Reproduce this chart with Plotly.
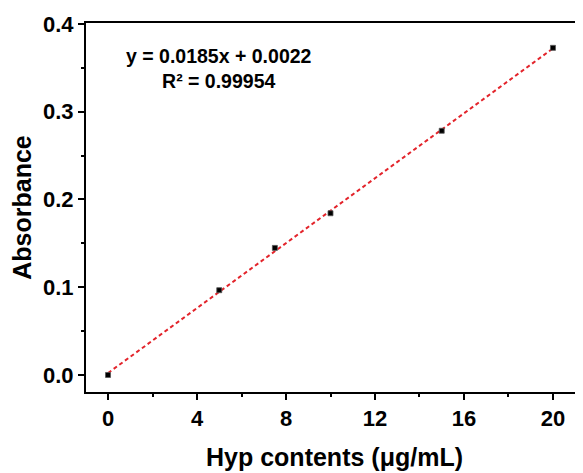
import plotly.graph_objects as go

# Data
hyp_conc = [0, 5, 7.5, 10, 15, 20]
absorbance = [0.000, 0.0966, 0.1448, 0.1843, 0.2783, 0.3728]
fit_slope = 0.0185
fit_intercept = 0.0022
r_squared = 0.99954
x_ticks = [0, 4, 8, 12, 16, 20]
y_ticks = [0.0, 0.1, 0.2, 0.3, 0.4]

fit_x = [min(hyp_conc), max(hyp_conc)]
fit_y = [fit_slope * v + fit_intercept for v in fit_x]

FONT = "Liberation Sans, Arial, sans-serif"

fig = go.Figure()
fig.add_trace(go.Scatter(
    x=fit_x, y=fit_y, mode="lines",
    line=dict(color="#e3242b", width=2, dash="4px,3px"),
    showlegend=False, hoverinfo="skip"))
fig.add_trace(go.Scatter(
    x=hyp_conc, y=absorbance, mode="markers",
    marker=dict(symbol="square", size=5, color="black",
                line=dict(color="#555555", width=0.8)),
    showlegend=False))

fig.add_annotation(
    x=5.0, y=0.349, xref="x", yref="y",
    text=f"y = {fit_slope}x + {fit_intercept}<br>R² = {r_squared}",
    showarrow=False, align="center",
    font=dict(family=FONT, size=19.5, color="black", weight="bold"))

axis_common = dict(
    showgrid=False, zeroline=False, automargin=False,
    showline=True, linecolor="black", linewidth=2,
    ticks="outside", ticklen=6, tickwidth=1.5, tickcolor="black",
    tickfont=dict(family=FONT, size=22, color="black", weight="bold"),
)

fig.update_xaxes(
    range=[-0.99, 21.35],
    tickvals=x_ticks, ticktext=[str(v) for v in x_ticks],
    mirror=True,
    minor=dict(ticks="outside", ticklen=3, tickwidth=1.5, tickcolor="black", dtick=2, tick0=0),
    title=dict(text="Hyp contents (μg/mL)", standoff=18,
               font=dict(family=FONT, size=25, color="black", weight="bold")),
    **axis_common)
fig.update_yaxes(
    range=[-0.0194, 0.4011],
    tickvals=y_ticks, ticktext=[f"{v:.1f}" for v in y_ticks],
    mirror=False,
    minor=dict(ticks="outside", ticklen=3, tickwidth=1.5, tickcolor="black", dtick=0.05, tick0=0),
    title=dict(text="Absorbance", standoff=4,
               font=dict(family=FONT, size=25, color="black", weight="bold")),
    **axis_common)

# page body has an 8px default margin; size the figure to fill the rest
fig.update_layout(
    width=575, height=465,
    margin=dict(l=78, r=0, t=15, b=81),
    plot_bgcolor="white", paper_bgcolor="white",
    font=dict(family=FONT, color="black"),
)

fig.write_html("out.html")
